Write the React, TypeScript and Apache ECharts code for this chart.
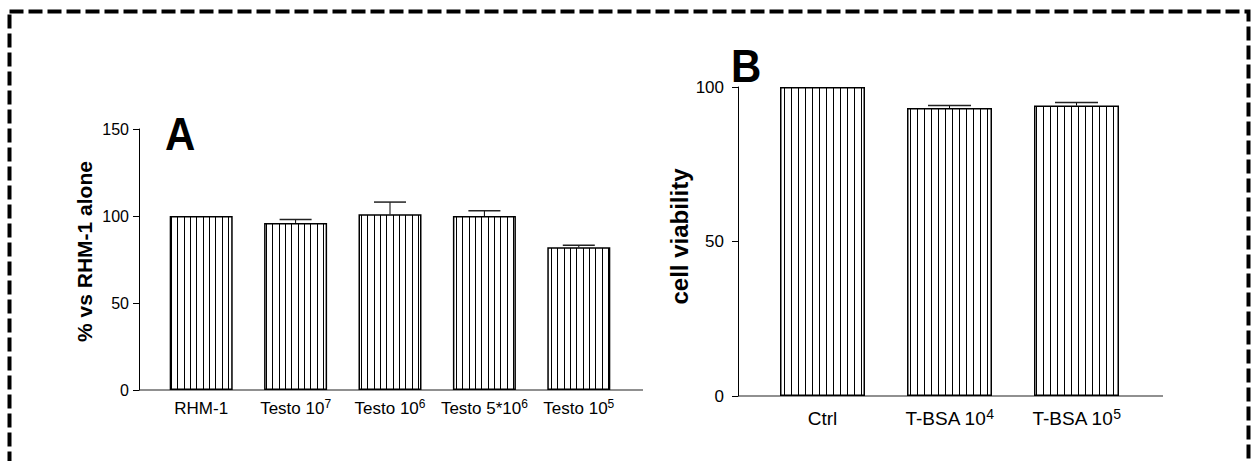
import React, { useEffect, useRef } from 'react';
import * as echarts from 'echarts';

// ---- Data ----
const catsA = ['RHM-1', 'Testo 10^7', 'Testo 10^6', 'Testo 5*10^6', 'Testo 10^5'];
const valsA = [100, 96, 101, 100, 82];
const errA = [0, 2, 7, 3, 1.2];
const ticksA = [0, 50, 100, 150];

const catsB = ['Ctrl', 'T-BSA 10^4', 'T-BSA 10^5'];
const valsB = [100, 93.2, 94];
const errB = [0, 0.8, 1];
const ticksB = [0, 50, 100];

const FONT = "'Liberation Sans', Arial, Helvetica, sans-serif";

function stripes(w: number, xs: number[]) {
  const c = document.createElement('canvas');
  c.width = w;
  c.height = 8;
  const ctx = c.getContext('2d')!;
  ctx.fillStyle = '#fff';
  ctx.fillRect(0, 0, w, 8);
  ctx.fillStyle = '#000';
  xs.forEach((x) => ctx.fillRect(x, 0, 1, 8));
  return c;
}

function labelFmt(v: string) {
  const [base, sup] = v.split('^');
  return sup ? `{n|${base}}{s|${sup}}` : `{n|${base}}`;
}

function errRender(capW: number) {
  return (params: any, api: any) => {
    const i = api.value(0);
    const v = api.value(1);
    const e = api.value(2);
    if (!e) return null;
    const p0 = api.coord([i, v]);
    const p1 = api.coord([i, v + e]);
    return {
      type: 'group',
      children: [
        { type: 'line', shape: { x1: p0[0], y1: p0[1], x2: p1[0], y2: p1[1] }, style: { stroke: '#000', lineWidth: 1 } },
        { type: 'line', shape: { x1: p1[0] - capW / 2, y1: p1[1], x2: p1[0] + capW / 2, y2: p1[1] }, style: { stroke: '#222', lineWidth: 1.5 } },
      ],
    };
  };
}

export default function App() {
  const ref = useRef<HTMLDivElement>(null);
  useEffect(() => {
    if (!ref.current) return;
    const chart = echarts.init(ref.current, null, { renderer: 'svg' });
    const patA = { image: stripes(19, [0, 6, 13]), repeat: 'repeat' };
    const patB = { image: stripes(7, [0]), repeat: 'repeat' };

    const yAxisCommon = (min: number, max: number, ticks: number[], fs: number, margin: number) => ({
      type: 'value',
      min,
      max,
      interval: ticks[1] - ticks[0],
      axisLine: { show: true, lineStyle: { color: '#000', width: 1 } },
      axisTick: { show: true, length: 6, lineStyle: { color: '#000', width: 1 } },
      axisLabel: { color: '#000', fontSize: fs, fontFamily: FONT, margin },
      splitLine: { show: false },
      nameLocation: 'middle',
      nameRotate: 90,
    });

    const xAxisCommon = (cats: string[], fs: number, supFs: number, margin: number) => ({
      type: 'category',
      data: cats,
      axisLine: { show: false },
      axisTick: { show: false },
      axisLabel: {
        interval: 0,
        margin,
        formatter: labelFmt,
        rich: {
          n: { fontSize: fs, color: '#000', fontFamily: FONT, lineHeight: fs + 4, verticalAlign: 'middle' },
          s: { fontSize: supFs, color: '#000', fontFamily: FONT, lineHeight: supFs + 2, verticalAlign: 'top' },
        },
      },
    });

    chart.setOption({
      animation: false,
      grid: [
        { left: 154, top: 129, width: 472, height: 261 },
        { left: 759, top: 87, width: 381, height: 309 },
      ],
      xAxis: [
        { ...xAxisCommon(catsA, 17, 12, 8), gridIndex: 0 },
        { ...xAxisCommon(catsB, 19, 14, 11), gridIndex: 1 },
      ],
      yAxis: [
        {
          ...yAxisCommon(0, 150, ticksA, 16, 10),
          gridIndex: 0,
          offset: 15,
          name: '% vs RHM-1 alone',
          nameGap: 44,
          nameTextStyle: { color: '#000', fontWeight: 'bold', fontFamily: FONT, fontSize: 21, padding: [0, 0, 0, 16] },
        },
        {
          ...yAxisCommon(0, 100, ticksB, 17, 14),
          gridIndex: 1,
          offset: 21,
          name: 'cell viability',
          nameGap: 26,
          nameTextStyle: { color: '#000', fontWeight: 'bold', fontFamily: FONT, fontSize: 24, padding: [0, 0, 0, 10] },
        },
      ],
      series: [
        {
          type: 'bar',
          xAxisIndex: 0,
          yAxisIndex: 0,
          data: valsA,
          barWidth: 63,
          itemStyle: { color: patA, borderColor: '#000', borderWidth: 1.5 },
        },
        {
          type: 'custom',
          xAxisIndex: 0,
          yAxisIndex: 0,
          data: catsA.map((_, i) => [i, valsA[i], errA[i]]),
          encode: { x: 0, y: 1 },
          renderItem: errRender(32),
          z: 5,
        },
        {
          type: 'bar',
          xAxisIndex: 1,
          yAxisIndex: 1,
          data: valsB,
          barWidth: 85,
          itemStyle: { color: patB, borderColor: '#000', borderWidth: 1.5 },
        },
        {
          type: 'custom',
          xAxisIndex: 1,
          yAxisIndex: 1,
          data: catsB.map((_, i) => [i, valsB[i], errB[i]]),
          encode: { x: 0, y: 1 },
          renderItem: errRender(43),
          z: 5,
        },
      ],
      graphic: [
        {
          type: 'rect',
          silent: true,
          shape: { x: 9.5, y: 11.5, width: 1239, height: 470 },
          style: { fill: 'none', stroke: '#000', lineWidth: 4, lineDash: [14, 5] },
        },
        { type: 'line', silent: true, shape: { x1: 139, y1: 390, x2: 643, y2: 390 }, style: { stroke: '#222', lineWidth: 1.2 } },
        { type: 'line', silent: true, shape: { x1: 738, y1: 396, x2: 1163, y2: 396 }, style: { stroke: '#222', lineWidth: 1.2 } },
        {
          type: 'text',
          x: 165,
          y: 133.5,
          scaleY: 1.1,
          style: { text: 'A', fontSize: 42, fontWeight: 'bold', fontFamily: FONT, fill: '#000', textAlign: 'left', textVerticalAlign: 'middle' },
        },
        {
          type: 'text',
          x: 731,
          y: 66,
          scaleY: 1.1,
          style: { text: 'B', fontSize: 42, fontWeight: 'bold', fontFamily: FONT, fill: '#000', textAlign: 'left', textVerticalAlign: 'middle' },
        },
      ],
    });
    return () => chart.dispose();
  }, []);
  return <div ref={ref} style={{ position: 'fixed', left: 0, top: 0, width: 1256, height: 461, background: '#fff' }} />;
}
